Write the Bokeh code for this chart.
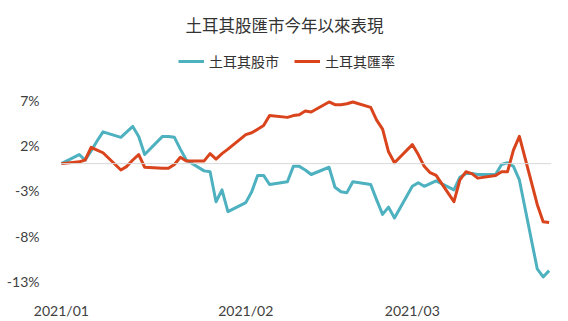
import pandas as pd
from bokeh.plotting import figure
from bokeh.models import (Range1d, FixedTicker, DatetimeTickFormatter, CustomJSTickFormatter,
                          Span, Label, Legend, LegendItem, ColumnDataSource)
from bokeh.embed import file_html
from bokeh.resources import INLINE

title_text = "土耳其股匯市今年以來表現"
series_names = ["土耳其股市", "土耳其匯率"]
colors = ["#4DB1C0", "#D9441C"]

dates = [
    "2021-01-01", "2021-01-04", "2021-01-05", "2021-01-06", "2021-01-07", "2021-01-08",
    "2021-01-11", "2021-01-12", "2021-01-13", "2021-01-14", "2021-01-15",
    "2021-01-18", "2021-01-19", "2021-01-20", "2021-01-21", "2021-01-22",
    "2021-01-25", "2021-01-26", "2021-01-27", "2021-01-28", "2021-01-29",
    "2021-02-01", "2021-02-02", "2021-02-03", "2021-02-04", "2021-02-05",
    "2021-02-08", "2021-02-09", "2021-02-10", "2021-02-11", "2021-02-12",
    "2021-02-15", "2021-02-16", "2021-02-17", "2021-02-18", "2021-02-19",
    "2021-02-22", "2021-02-23", "2021-02-24", "2021-02-25", "2021-02-26",
    "2021-03-01", "2021-03-02", "2021-03-03", "2021-03-04", "2021-03-05",
    "2021-03-08", "2021-03-09", "2021-03-10", "2021-03-11", "2021-03-12",
    "2021-03-15", "2021-03-16", "2021-03-17", "2021-03-18", "2021-03-19",
    "2021-03-22", "2021-03-23", "2021-03-24",
]

stock = [
    0.0, 1.0, 0.4, 1.4, 2.5, 3.5, 2.9, 3.5, 4.1, 3.0, 1.0,
    3.0, 3.0, 2.9, 1.6, 0.4, -0.8, -0.9, -4.2, -2.9, -5.3,
    -4.3, -3.1, -1.3, -1.3, -2.3, -2.0, -0.3, -0.3, -0.7, -1.2,
    -0.4, -2.6, -3.1, -3.2, -2.0, -2.3, -4.0, -5.6, -4.8, -6.0,
    -2.5, -2.1, -2.5, -2.2, -1.9, -2.9, -1.5, -1.1, -1.1, -1.2,
    -1.2, -0.1, 0.1, -0.3, -1.8, -11.6, -12.5, -11.8,
]

fx = [
    0.0, 0.2, 0.4, 1.8, 1.5, 1.2, -0.7, -0.3, 0.4, 1.0, -0.4,
    -0.5, -0.5, -0.1, 0.7, 0.3, 0.3, 1.1, 0.5, 1.1, 1.6,
    3.2, 3.4, 3.8, 4.2, 5.3, 5.1, 5.3, 5.4, 5.8, 5.7,
    6.8, 6.5, 6.5, 6.6, 6.8, 6.2, 4.8, 3.8, 1.3, 0.1,
    2.1, 1.0, -0.3, -1.0, -1.3, -4.2, -1.8, -0.9, -1.1, -1.6,
    -1.3, -0.9, -0.9, 1.5, 3.0, -4.5, -6.4, -6.5,
]

y_ticks = [-13, -8, -3, 2, 7]
month_ticks = ["2021-01-01", "2021-02-01", "2021-03-01"]

dt = pd.to_datetime(dates)
src = ColumnDataSource(dict(x=dt, stock=stock, fx=fx))

day = 86400000
x0 = pd.Timestamp("2021-01-01").value // 10**6 - 0.15 * day
x1 = pd.Timestamp("2021-03-24").value // 10**6 + 0.4 * day

# frame spans from the top of the canvas so that title and legend sit inside it
p = figure(width=568, height=321, output_backend="svg", toolbar_location=None,
           x_axis_type="datetime",
           x_range=Range1d(x0, x1), y_range=Range1d(-13.22, 17.99),
           min_border_left=60, min_border_right=17, min_border_top=0, min_border_bottom=37)
p.outline_line_color = None
p.grid.visible = False
p.background_fill_color = "white"
p.border_fill_color = "white"

p.add_layout(Span(location=0, dimension="width", line_color="#D9D9D9", line_width=1))

r1 = p.line("x", "stock", source=src, line_color=colors[0], line_width=3, line_join="round")
r2 = p.line("x", "fx", source=src, line_color=colors[1], line_width=3, line_join="round")

yax = p.yaxis[0]
yax.ticker = FixedTicker(ticks=y_ticks)
yax.formatter = CustomJSTickFormatter(code="return tick + '%';")
yax.axis_line_color = None
yax.major_tick_line_color = None
yax.minor_tick_line_color = None
yax.major_label_standoff = 15
yax.major_label_text_font = "Lato"
yax.major_label_text_font_size = "14px"
yax.major_label_text_color = "#404040"

xax = p.xaxis[0]
xax.ticker = FixedTicker(ticks=[pd.Timestamp(m).value // 10**6 for m in month_ticks])
xax.formatter = DatetimeTickFormatter(days="%Y/%m", months="%Y/%m")
xax.axis_line_color = None
xax.major_tick_line_color = None
xax.minor_tick_line_color = None
xax.major_label_standoff = 12
xax.major_label_text_font = "Lato"
xax.major_label_text_font_size = "14px"
xax.major_label_text_color = "#404040"

p.add_layout(Label(x=224, y=259, x_units="screen", y_units="screen", text=title_text,
                   text_align="center", text_baseline="middle",
                   text_font="Noto Sans CJK TC", text_font_size="16.5px", text_color="#333333"))

legend = Legend(items=[LegendItem(label=series_names[0], renderers=[r1]),
                       LegendItem(label=series_names[1], renderers=[r2])],
                location=(118, 212), orientation="horizontal")
legend.padding = 0
legend.margin = 0
legend.spacing = 15
legend.glyph_width = 26
legend.glyph_height = 20
legend.label_height = 20
legend.label_standoff = 5
legend.border_line_color = None
legend.background_fill_alpha = 0
legend.label_text_font = "Noto Sans CJK TC"
legend.label_text_font_size = "14px"
legend.label_text_color = "#333333"
p.add_layout(legend)

open("out.html", "w").write(file_html(p, INLINE))
